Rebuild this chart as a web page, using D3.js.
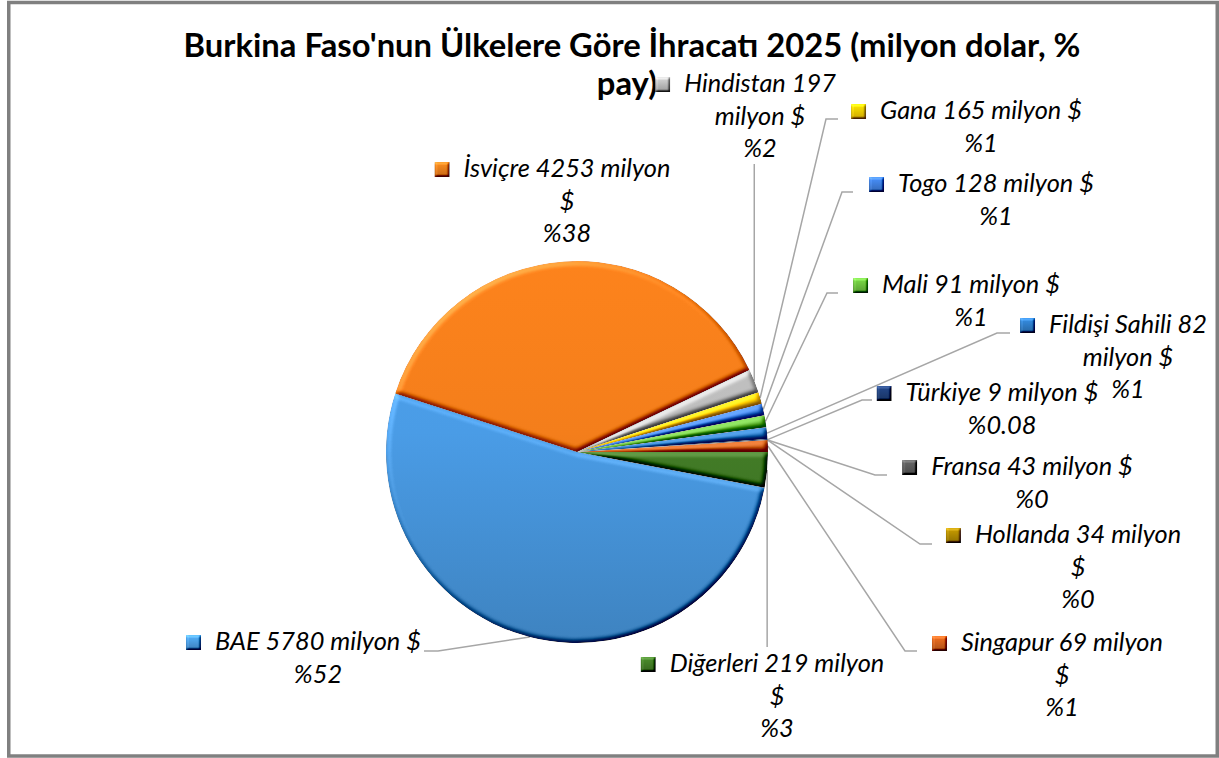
<!DOCTYPE html>
<html>
<head>
<meta charset="utf-8">
<script src="https://cdn.jsdelivr.net/npm/d3@7"></script>
<style>
  body { margin: 0; background: #fff; }
</style>
</head>
<body>
<div id="chart"></div>
<script>
// veriler
var countries = ["BAE", "İsviçre", "Hindistan", "Gana", "Togo", "Mali", "Fildişi Sahili", "Türkiye", "Fransa", "Hollanda", "Singapur", "Diğerleri"];
var exportValues = [5780, 4253, 197, 165, 128, 91, 82, 9, 43, 34, 69, 219];
var sharePct = [52, 38, 2, 1, 1, 1, 1, 0.08, 0, 0, 1, 3];
var shareText = ["%52", "%38", "%2", "%1", "%1", "%1", "%1", "%0.08", "%0", "%0", "%1", "%3"];
var sliceColors = ["#4a9ce6", "#f47e1b", "#bdbdbd", "#ffcc00", "#3f7fe0", "#6cc13e", "#2f7dc8", "#1f3f7a", "#5a5a5a", "#b08a00", "#d4621c", "#437d27"];
var titleLines = ["Burkina Faso'nun Ülkelere Göre İhracatı 2025 (milyon dolar, %", "pay)"];

var W = 1219, H = 758;
var cx = 577, cy = 452, r = 191;
var firstAngle = 100.8; // derece, saat 12'den itibaren

// etiket yerlesimi (kelime sayilari satir basina, ilk satir tabani, cizgi)
var labelLayout = [
    { cx: 318, y: 650, breaks: [4], lead: [[424, 651], [438, 651]] },
    { cx: 567, y: 177, breaks: [3, 1], lead: null },
    { cx: 760, y: 92, breaks: [2, 2], vy: 164 },
    { cx: 981, y: 119, breaks: [4], lead: [[838, 119], [826, 119]] },
    { cx: 996, y: 192, breaks: [4], lead: [[853, 192], [842, 192]] },
    { cx: 971, y: 293, breaks: [4], lead: [[838, 293], [827, 293]] },
    { cx: 1128, y: 333, breaks: [3, 2], lead: [[1010, 333], [997, 333]] },
    { cx: 1002, y: 401, breaks: [4], lead: [[872, 400], [862, 400]] },
    { cx: 1032, y: 475, breaks: [4], lead: [[887, 475], [875, 475]] },
    { cx: 1078, y: 543, breaks: [3, 1], lead: [[932, 544], [920, 544]] },
    { cx: 1062, y: 651, breaks: [3, 1], lead: [[917, 651], [905, 651]] },
    { cx: 777, y: 672, breaks: [3, 1], vy: 647 }
];
var lineStep = 32.5;
var labelFont = "Lato, 'Open Sans', sans-serif";

var svg = d3.select("#chart")
    .append("svg")
    .attr("width", W)
    .attr("height", H);

// yazi boyutu olcumu
function fitSize(text, weight, style, target) {
    var t = svg.append("text")
        .attr("font-family", labelFont)
        .attr("font-weight", weight)
        .attr("font-style", style)
        .attr("font-size", 100)
        .text(text);
    var len = t.node().getComputedTextLength();
    t.remove();
    return 100 * target / len;
}
var labelSize = fitSize("Togo 128 milyon $", "normal", "italic", 196);
var titleSize = fitSize(titleLines[0], "bold", "normal", 897);

var defs = svg.append("defs");

// kabartma (bevel) filtresi
function bevel(id, blur, scale, amount) {
    var f = defs.append("filter")
        .attr("id", id)
        .attr("color-interpolation-filters", "sRGB")
        .attr("x", "-5%").attr("y", "-5%")
        .attr("width", "110%").attr("height", "110%");
    f.append("feGaussianBlur")
        .attr("in", "SourceAlpha")
        .attr("stdDeviation", blur)
        .attr("result", "blur");
    f.append("feDiffuseLighting")
        .attr("in", "blur")
        .attr("surfaceScale", scale)
        .attr("diffuseConstant", 1)
        .attr("lighting-color", "#fff")
        .attr("result", "light")
        .append("feDistantLight")
        .attr("azimuth", 235)
        .attr("elevation", 50);
    f.append("feComposite")
        .attr("in", "SourceGraphic")
        .attr("in2", "light")
        .attr("operator", "arithmetic")
        .attr("k1", 0).attr("k2", 1)
        .attr("k3", amount).attr("k4", -amount * Math.sin(50 * Math.PI / 180))
        .attr("result", "lit");
    f.append("feComposite")
        .attr("in", "lit")
        .attr("in2", "SourceAlpha")
        .attr("operator", "in");
}
bevel("bevelSlice", 2.5, 3.5, 0.75);
bevel("bevelKey", 1.2, 2.5, 0.7);

// dilim renk gecisleri (dilimler merkeze tasindigi icin yerel koordinatlar)
sliceColors.forEach(function (c, i) {
    var g = defs.append("linearGradient")
        .attr("id", "grad" + i)
        .attr("gradientUnits", "userSpaceOnUse")
        .attr("x1", 0).attr("y1", -r)
        .attr("x2", 0).attr("y2", r);
    g.append("stop").attr("offset", "0%").attr("stop-color", d3.color(c).brighter(0.1));
    g.append("stop").attr("offset", "45%").attr("stop-color", c);
    g.append("stop").attr("offset", "100%").attr("stop-color", d3.color(c).darker(0.5));

    var k = defs.append("linearGradient")
        .attr("id", "key" + i)
        .attr("x1", 0).attr("y1", 0)
        .attr("x2", 0).attr("y2", 1);
    k.append("stop").attr("offset", "0%").attr("stop-color", d3.color(c).brighter(0.4));
    k.append("stop").attr("offset", "100%").attr("stop-color", d3.color(c).darker(0.6));
});

// cerceve
svg.append("rect")
    .attr("x", 8.75)
    .attr("y", 2.5)
    .attr("width", 1208.5)
    .attr("height", 753.5)
    .attr("fill", "none")
    .attr("stroke", "#808080")
    .attr("stroke-width", 3.5);

// baslik
svg.selectAll("text.title")
    .data(titleLines)
    .enter()
    .append("text")
    .attr("class", "title")
    .attr("x", function (d, i) { return i == 0 ? 632 : 627; })
    .attr("y", function (d, i) { return 57 + i * 38; })
    .attr("text-anchor", "middle")
    .attr("font-family", labelFont)
    .attr("font-weight", "bold")
    .attr("font-size", titleSize + "px")
    .attr("fill", "#000")
    .text(function (d) { return d; });

var rad = Math.PI / 180;
var pie = d3.pie()
    .sort(null)
    .value(function (d) { return d; })
    .startAngle(firstAngle * rad)
    .endAngle(firstAngle * rad + 2 * Math.PI);
var arcs = pie(sharePct);

var arc = d3.arc().innerRadius(0).outerRadius(r);
var edge = d3.arc().innerRadius(r).outerRadius(r);

var g = svg.append("g");

// kilavuz cizgileri
arcs.forEach(function (a, i) {
    var L = labelLayout[i];
    var p = edge.centroid(a);
    var end = [cx + p[0], cy + p[1]];
    var pts = null;
    if (L.lead) pts = L.lead.concat([end]);
    else if (L.vy) pts = [[end[0], L.vy], end];
    if (!pts) return;
    g.append("path")
        .attr("d", d3.line()(pts))
        .attr("fill", "none")
        .attr("stroke", "#a6a6a6")
        .attr("stroke-width", 1.5);
});

// dilimler
g.selectAll("path.slice")
    .data(arcs)
    .enter()
    .append("path")
    .attr("class", "slice")
    .attr("transform", "translate(" + cx + "," + cy + ")")
    .attr("d", arc)
    .attr("fill", function (d, i) { return "url(#grad" + i + ")"; })
    .attr("filter", "url(#bevelSlice)");

// etiketler
countries.forEach(function (name, i) {
    var L = labelLayout[i];
    var words = (name + " " + exportValues[i] + " milyon $").split(" ");
    var lines = [], k = 0;
    L.breaks.forEach(function (n) {
        lines.push(words.slice(k, k + n).join(" "));
        k += n;
    });
    lines.push(shareText[i]);
    var first = null;
    lines.forEach(function (ln, j) {
        var t = svg.append("text")
            .attr("x", L.cx)
            .attr("y", L.y + j * lineStep)
            .attr("text-anchor", "middle")
            .attr("font-family", labelFont)
            .attr("font-style", "italic")
            .attr("font-size", labelSize + "px")
            .attr("fill", "#000")
            .text(ln);
        if (j == 0) first = t;
    });
    var w = first.node().getComputedTextLength();
    var x0 = L.cx - w / 2;
    svg.append("rect")
        .attr("x", x0 - 29)
        .attr("y", L.y - 15)
        .attr("width", 15)
        .attr("height", 15)
        .attr("fill", "url(#key" + i + ")")
        .attr("filter", "url(#bevelKey)");
});
</script>
</body>
</html>
